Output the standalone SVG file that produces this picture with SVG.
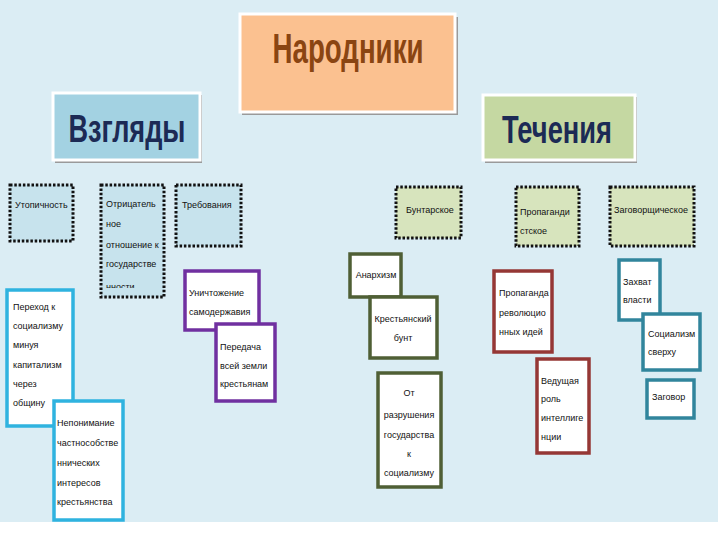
<svg xmlns="http://www.w3.org/2000/svg" width="720" height="540" viewBox="0 0 720 540">
<defs>
<style>
.t{font-family:"Liberation Sans Narrow","Liberation Sans",Arial,sans-serif;font-size:9px;fill:#111}
.c{text-anchor:middle}
.big{font-family:"Liberation Sans Narrow","Liberation Sans",Arial,sans-serif;font-weight:bold;text-anchor:middle}
.dotb{fill:#c7e3ed;stroke:#111;stroke-width:3;stroke-dasharray:2.5 1.8}
.dotg{fill:#d7e4bd;stroke:#111;stroke-width:3;stroke-dasharray:2.5 1.8}
.cy{fill:#fff;stroke:#2fb3df;stroke-width:3.5}
.pu{fill:#fff;stroke:#7030a0;stroke-width:3.5}
.gr{fill:#fff;stroke:#4f5f35;stroke-width:3.5}
.rd{fill:#fff;stroke:#953735;stroke-width:3.5}
.st{fill:#fff;stroke:#31859c;stroke-width:3.5}
.sh{fill:#9a9a9a}
.hb{stroke:#fff;stroke-width:3}
</style>
<clipPath id="clipOtr"><rect x="100" y="186" width="66" height="102"/></clipPath>
</defs>
<rect x="0" y="0" width="720" height="540" fill="#fff"/>
<rect x="0" y="0" width="718" height="522" fill="#dbedf4"/>

<g id="narodniki">
<rect class="sh" x="242" y="17" width="216" height="98"/>
<rect class="hb" x="240" y="14" width="215" height="98" fill="#fbc190"/>
<text class="big" x="348" y="63" font-size="42" fill="#8a4512" textLength="151" lengthAdjust="spacingAndGlyphs">Народники</text>
</g>

<g id="vzglyady">
<rect class="sh" x="55" y="95" width="147" height="68"/>
<rect class="hb" x="53" y="93" width="147" height="67" fill="#a3d2e2"/>
<text class="big" x="127" y="142" font-size="38" fill="#1c2a55" textLength="117" lengthAdjust="spacingAndGlyphs">Взгляды</text>
</g>

<g id="techeniya">
<rect class="sh" x="485" y="97" width="152" height="66"/>
<rect class="hb" x="483" y="95" width="152" height="65" fill="#c5d8a2"/>
<text class="big" x="557" y="143" font-size="38" fill="#1c2a55" textLength="110" lengthAdjust="spacingAndGlyphs">Течения</text>
</g>

<g id="utopichnost">
<rect class="dotb" x="10" y="185" width="63" height="56"/>
<text class="t" x="15" y="208">Утопичность</text>
</g>

<g id="otritsatelnoe">
<rect class="dotb" x="101" y="185" width="63" height="112"/>
<g clip-path="url(#clipOtr)">
<text class="t" x="106" y="207">Отрицатель</text>
<text class="t" x="106" y="227">ное</text>
<text class="t" x="106" y="248">отношение к</text>
<text class="t" x="106" y="267">государстве</text>
<text class="t" x="106" y="290">нности</text>
</g>
</g>

<g id="trebovaniya">
<rect class="dotb" x="176" y="185" width="65" height="61"/>
<text class="t" x="182" y="208">Требования</text>
</g>

<g id="perehod">
<rect class="cy" x="7" y="290" width="66" height="136"/>
<text class="t" x="13" y="310">Переход к</text>
<text class="t" x="13" y="329">социализму</text>
<text class="t" x="13" y="348">минуя</text>
<text class="t" x="13" y="368">капитализм</text>
<text class="t" x="13" y="387">через</text>
<text class="t" x="13" y="406">общину</text>
</g>

<g id="neponimanie">
<rect class="cy" x="54" y="401" width="69" height="119"/>
<text class="t" x="57" y="426">Непонимание</text>
<text class="t" x="57" y="446">частнособстве</text>
<text class="t" x="57" y="466">ннических</text>
<text class="t" x="57" y="486">интересов</text>
<text class="t" x="57" y="505">крестьянства</text>
</g>

<g id="unichtozhenie">
<rect class="pu" x="185" y="271" width="74" height="59"/>
<text class="t" x="189" y="296">Уничтожение</text>
<text class="t" x="189" y="315">самодержавия</text>
</g>

<g id="peredacha">
<rect class="pu" x="216" y="324" width="59" height="77"/>
<text class="t" x="220" y="350">Передача</text>
<text class="t" x="220" y="369">всей земли</text>
<text class="t" x="220" y="387">крестьянам</text>
</g>

<g id="buntarskoe">
<rect class="dotg" x="396" y="187" width="65" height="51"/>
<text class="t" x="406" y="213">Бунтарское</text>
</g>

<g id="propagandistskoe">
<rect class="dotg" x="516" y="187" width="63" height="59"/>
<text class="t" x="520" y="215">Пропаганди</text>
<text class="t" x="520" y="234">стское</text>
</g>

<g id="zagovorshicheskoe">
<rect class="dotg" x="610" y="187" width="84" height="59"/>
<text class="t" x="614" y="213">Заговорщическое</text>
</g>

<g id="anarhizm">
<rect class="gr" x="350" y="254" width="51" height="43"/>
<text class="t c" x="376" y="278">Анархизм</text>
</g>

<g id="krestyanskiy">
<rect class="gr" x="370" y="297" width="67" height="61"/>
<text class="t c" x="403" y="322">Крестьянский</text>
<text class="t c" x="403" y="341">бунт</text>
</g>

<g id="ot-razrusheniya">
<rect class="gr" x="378" y="373" width="63" height="114"/>
<text class="t c" x="409" y="396">От</text>
<text class="t c" x="409" y="418">разрушения</text>
<text class="t c" x="409" y="438">государства</text>
<text class="t c" x="409" y="457">к</text>
<text class="t c" x="409" y="476">социализму</text>
</g>

<g id="propaganda-idey">
<rect class="rd" x="494" y="271" width="58" height="81"/>
<text class="t" x="499" y="296">Пропаганда</text>
<text class="t" x="499" y="316">революцио</text>
<text class="t" x="499" y="335">нных идей</text>
</g>

<g id="vedushchaya-rol">
<rect class="rd" x="537" y="359" width="52" height="94"/>
<text class="t" x="541" y="384">Ведущая</text>
<text class="t" x="541" y="402">роль</text>
<text class="t" x="541" y="421">интеллиге</text>
<text class="t" x="541" y="440">нции</text>
</g>

<g id="zahvat-vlasti">
<rect class="st" x="619" y="260" width="41" height="60"/>
<text class="t" x="623" y="285">Захват</text>
<text class="t" x="623" y="303">власти</text>
</g>

<g id="sotsializm-sverhu">
<rect class="st" x="643" y="314" width="57" height="56"/>
<text class="t" x="648" y="337">Социализм</text>
<text class="t" x="648" y="355">сверху</text>
</g>

<g id="zagovor">
<rect class="st" x="647" y="380" width="47" height="38"/>
<text class="t" x="652" y="400">Заговор</text>
</g>

<g id="connectors"></g>
</svg>
